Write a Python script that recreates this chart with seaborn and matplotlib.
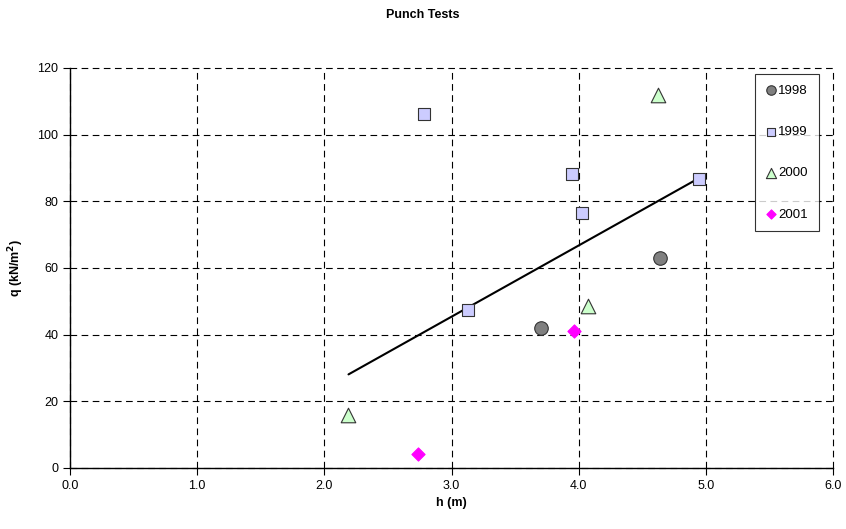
import numpy as np
import pandas as pd
import matplotlib
matplotlib.use("Agg")
import matplotlib.pyplot as plt
import seaborn as sns

sns.set_style("white")
plt.rcParams['font.family'] = ['Liberation Sans', 'DejaVu Sans']
plt.rcParams['text.color'] = 'black'
plt.rcParams['axes.labelcolor'] = 'black'
plt.rcParams['xtick.color'] = 'black'
plt.rcParams['ytick.color'] = 'black'

years = ["1998", "1999", "2000", "2001"]
h_1998 = [3.70, 4.64]
q_1998 = [42.0, 63.0]
h_1999 = [2.78, 3.13, 3.95, 4.03, 4.95]
q_1999 = [106.2, 47.4, 88.2, 76.5, 86.7]
h_2000 = [4.62, 2.19, 4.07]
q_2000 = [112.0, 16.0, 48.5]
h_2001 = [2.74, 3.96]
q_2001 = [4.3, 41.0]

h_all = [h_1998, h_1999, h_2000, h_2001]
q_all = [q_1998, q_1999, q_2000, q_2001]

rows = []
for y, hs, qs in zip(years, h_all, q_all):
    for hv, qv in zip(hs, qs):
        rows.append({"year": y, "h": hv, "q": qv})
df = pd.DataFrame(rows)

styles = {
    "1998": dict(marker="o", color="#808080", edgecolor="#333333", s=95),
    "1999": dict(marker="s", color="#CCCCFF", edgecolor="#333333", s=85),
    "2000": dict(marker="^", color="#CCFFCC", edgecolor="#333333", s=110),
    "2001": dict(marker="D", color="#FF00FF", edgecolor="#FF00FF", s=45),
}

fig = plt.figure(figsize=(8.46, 5.29), dpi=100)
ax = fig.add_axes([70/846, 1 - 468/529, 763/846, 400/529])

for y in years:
    st = styles[y]
    sns.scatterplot(data=df[df.year == y], x="h", y="q", ax=ax, label=y,
                    marker=st["marker"], color=st["color"], edgecolor=st["edgecolor"],
                    s=st["s"], linewidth=0.8, zorder=3)

sns.regplot(data=df, x="h", y="q", ax=ax, scatter=False, ci=None, truncate=True,
            line_kws=dict(color="black", lw=1.5, zorder=2))

ax.set_xlim(0, 6)
ax.set_ylim(0, 120)
ax.set_xticks(np.arange(0, 6.01, 1.0))
ax.set_xticklabels([f"{v:.1f}" for v in np.arange(0, 6.01, 1.0)])
ax.set_yticks(np.arange(0, 121, 20))
ax.grid(True, linestyle=(0, (6, 4)), color="black", linewidth=0.8)
for gl in ax.get_xgridlines() + ax.get_ygridlines():
    gl.set_clip_on(False)
ax.set_axisbelow(True)
for s in ["top", "right"]:
    ax.spines[s].set_visible(False)
for s in ["left", "bottom"]:
    ax.spines[s].set_color("black")
    ax.spines[s].set_linewidth(1.0)
ax.tick_params(axis="both", labelsize=9, colors="black", length=5, width=0.8)
ax.tick_params(axis="x", direction="out", bottom=True)
ax.tick_params(axis="y", direction="out", left=True)

ax.set_xlabel("h (m)", fontsize=9, fontweight="bold", labelpad=4)
ax.set_ylabel("q (kN/m$^\\mathbf{2}$)", fontsize=9, fontweight="bold", labelpad=8)
fig.text(0.5, 1 - 15/529, "Punch Tests", ha="center", va="center",
         fontsize=9, fontweight="bold", color="black")

leg = ax.legend(loc="upper right", bbox_to_anchor=(0.981, 0.985), fontsize=9.5,
                frameon=True, fancybox=False, edgecolor="black", labelspacing=2.2,
                handletextpad=0.1, handlelength=0.9, borderpad=0.8, borderaxespad=0,
                markerscale=0.7)
leg.get_frame().set_linewidth(0.8)
leg.get_frame().set_facecolor("white")
for t in leg.get_texts():
    t.set_color("black")

fig.savefig("out.png", dpi=100)
